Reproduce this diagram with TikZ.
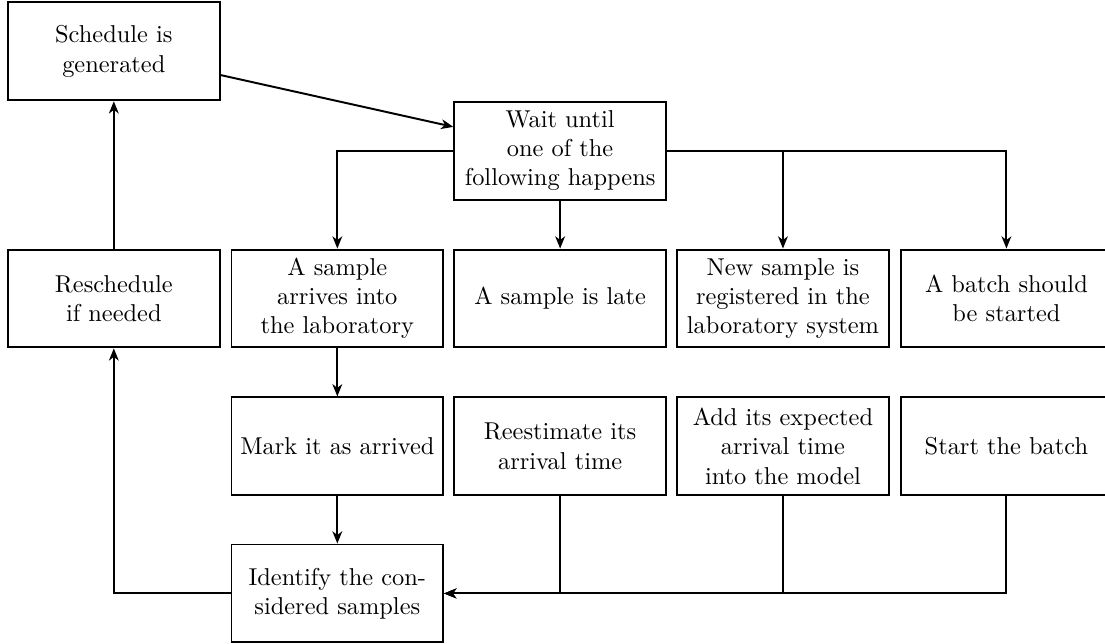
\documentclass[tikz,border=0pt]{standalone}
\usetikzlibrary{arrows.meta}
\tikzset{
  stepbox/.style={draw, thick, align=center, minimum width=3.05cm,
    minimum height=1.41cm, inner sep=2pt},
  flow/.style={thick, -{Stealth[length=5pt,width=4pt,inset=1.5pt]}},
}
\begin{document}
\begin{tikzpicture}
  \useasboundingbox (0,0) rectangle (15.92,-9.265);
  % top of the loop
  \node[stepbox] (sched) at (1.64,-0.74) {Schedule is\\generated};
  \node[stepbox] (wait) at (8.07,-2.17) {Wait until\\one of the\\following happens};
  % events
  \node[stepbox] (resched) at (1.64,-4.30) {Reschedule\\if needed};
  \node[stepbox] (arrive) at (4.86,-4.30) {A sample\\arrives into\\the laboratory};
  \node[stepbox] (late) at (8.07,-4.30) {A sample is late};
  \node[stepbox] (newreg) at (11.28,-4.30) {New sample is\\registered in the\\laboratory system};
  \node[stepbox] (batch) at (14.50,-4.30) {A batch should\\be started};
  % actions
  \node[stepbox] (mark) at (4.86,-6.43) {Mark it as arrived};
  \node[stepbox] (reest) at (8.07,-6.43) {Reestimate its\\arrival time};
  \node[stepbox] (addexp) at (11.28,-6.43) {Add its expected\\arrival time\\into the model};
  \node[stepbox] (start) at (14.50,-6.43) {Start the batch};
  \node[stepbox] (ident) at (4.86,-8.55) {Identify the con-\\sidered samples};
  % connectors
  \draw[flow] (sched) -- (wait);
  \draw[flow] (wait.west) -| (arrive.north);
  \draw[flow] (wait) -- (late);
  \draw[flow] (wait.east) -| (newreg.north);
  \draw[flow] (wait.east) -| (batch.north);
  \draw[flow] (arrive) -- (mark);
  \draw[flow] (mark) -- (ident);
  \foreach \n in {reest,addexp,start}
    \draw[flow] (\n.south) |- (ident.east);
  \draw[flow] (ident.west) -| (resched.south);
  \draw[flow] (resched) -- (sched);
\end{tikzpicture}
\end{document}
